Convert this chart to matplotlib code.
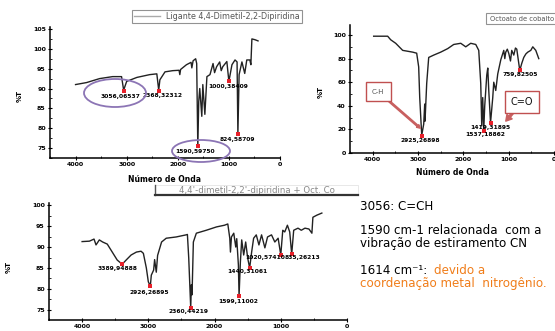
import matplotlib.pyplot as plt
from matplotlib.lines import Line2D
from matplotlib.patches import Ellipse, Rectangle
from matplotlib.ticker import MultipleLocator

W, H = 555, 331

# Ligante 4,4-Dimetil-2,2-Dipiridina (wavenumber, %T)
wn_lig = [4000, 3785, 3530, 3275, 3100, 3059, 3000, 2800, 2550, 2410, 2373, 2350,
          2250, 2100, 1975, 1960, 1945, 1830, 1740, 1725, 1700, 1650, 1630, 1608,
          1590, 1570, 1530, 1510, 1470, 1430, 1370, 1310, 1280, 1240, 1180, 1150,
          1120, 1040, 1000, 940, 880, 840, 824, 800, 745, 690, 650, 590, 570, 550,
          490, 430]
t_lig = [91.0, 91.5, 92.5, 93.0, 93.0, 89.6, 91.8, 92.8, 93.5, 93.7, 89.6, 92.2,
         94.2, 94.5, 94.6, 93.5, 94.8, 96.0, 96.6, 95.2, 97.0, 97.5, 96.3, 75.3,
         86.7, 90.0, 83.0, 91.0, 83.5, 93.0, 93.5, 96.3, 94.0, 95.5, 96.7, 94.5,
         95.5, 96.8, 91.8, 96.0, 97.2, 96.7, 78.5, 93.5, 96.7, 93.8, 97.2, 97.2,
         96.0, 102.5, 102.3, 102.0]
pk_lig_wn = [3059, 2373, 1608, 1000, 824]
pk_lig_t = [89.3, 89.3, 75.5, 91.8, 78.5]
pk_lig_lab = ['3056,06537', '2368,32312', '1590,59750', '1000,38409', '824,58709']

# Octoato de cobalto
wn_oct = [3978, 3669, 3603, 3492, 3338, 3117, 3029, 2985, 2962, 2918, 2874, 2852,
          2845, 2808, 2764, 2653, 2499, 2344, 2212, 2057, 1947, 1837, 1726, 1660,
          1616, 1594, 1572, 1550, 1528, 1483, 1461, 1439, 1400, 1351, 1329, 1285,
          1241, 1174, 1108, 1085, 1064, 1030, 998, 960, 932, 887, 850, 821, 755,
          711, 667, 620, 578, 512, 468, 402, 336]
t_oct = [99, 99, 96, 93, 87, 85.5, 84.6, 73, 47, 15, 24.5, 41.5,
         27, 59, 81, 83, 85.5, 88.5, 92, 93, 90, 93, 92, 87,
         59, 23, 47, 19, 40, 66, 72, 53, 25.6, 47, 60, 53,
         67, 79, 87, 80, 85.5, 88, 84.5, 78, 87, 83, 89, 88, 70,
         76, 81, 84, 85.5, 87, 90, 87, 80]
pk_oct_wn = [2918, 1550, 1400, 755]
pk_oct_t = [14.5, 19, 25.6, 70]
pk_oct_lab = ['2925,26898', '1537,18862', '1419,31895', '759,82505']

# 4,4'-dimetil-2,2'-dipiridina + Oct. Co
wn_mix = [4000, 3890, 3820, 3790, 3740, 3690, 3620, 3545, 3470, 3395, 3335, 3260,
          3180, 3110, 3075, 3030, 3000, 2970, 2955, 2920, 2905, 2880, 2860, 2800,
          2730, 2580, 2430, 2410, 2390, 2360, 2350, 2340, 2320, 2275, 2125, 1970,
          1850, 1800, 1770, 1760, 1745, 1710, 1680, 1665, 1640, 1630, 1610, 1590,
          1560, 1530, 1500, 1470, 1440, 1410, 1370, 1330, 1290, 1240, 1200, 1140,
          1090, 1040, 1000, 970, 940, 900, 865, 835, 805, 740, 690, 635, 575, 530,
          515, 455, 380]
t_mix = [91.3, 91.4, 91.9, 90.5, 91.7, 91.2, 90.7, 88.8, 86.9, 85.9, 86.9, 88.1,
         88.8, 89.0, 88.5, 85.0, 81.7, 80.7, 83.3, 84.5, 87.0, 84.0, 88.0, 91.2,
         92.1, 92.4, 92.9, 93.0, 87.4, 75.5, 81.0, 78.6, 91.2, 93.3, 94.0, 94.8,
         95.2, 95.5, 92.1, 88.8, 92.4, 93.3, 90.0, 92.0, 85.7, 78.3, 86.4, 91.7,
         88.1, 91.2, 87.4, 85.0, 88.8, 92.1, 92.9, 90.5, 92.9, 89.8, 92.4, 92.9,
         91.2, 92.1, 88.1, 94.0, 93.6, 95.2, 93.6, 88.3, 94.0, 94.5, 94.0, 94.5,
         94.3, 93.3, 97.1, 97.6, 98.1]
pk_mix_wn = [3395, 2970, 2360, 1630, 1470, 1000, 835]
pk_mix_t = [85.9, 80.7, 75.5, 78.3, 85.0, 88.1, 88.3]
pk_mix_lab = ['3389,94888', '2926,26895', '2360,44219', '1599,11002', '1440,31061',
              '1020,57410', '835,26213']

fig = plt.figure(figsize=(W / 100, H / 100), dpi=100)
fig.patch.set_facecolor('white')


def px_axes(l, t, r, b):
    return fig.add_axes([l / W, 1 - b / H, (r - l) / W, (b - t) / H])


def fx(x):
    return x / W


def fy(y):
    return 1 - y / H


def spectrum(ax, wn, t, pk_wn, pk_t, labels, offsets, ylim, major, minor):
    ax.plot(wn, t, color='#222222', lw=1.0)
    ax.plot(pk_wn, pk_t, 's', color='#e8202a', ms=2.2, mew=0)
    for w, v, s, (dx, dy) in zip(pk_wn, pk_t, labels, offsets):
        ax.annotate(s, (w, v), xytext=(dx, dy), textcoords='offset pixels',
                    ha='center', va='center', fontsize=4.3, fontweight='bold')
    ax.set_xlim(4500, 0)
    ax.set_ylim(*ylim)
    ax.xaxis.set_major_locator(MultipleLocator(1000))
    ax.xaxis.set_minor_locator(MultipleLocator(500))
    ax.yaxis.set_major_locator(MultipleLocator(major))
    ax.yaxis.set_minor_locator(MultipleLocator(minor))
    for s in ['top', 'right']:
        ax.spines[s].set_visible(False)
    for s in ['left', 'bottom']:
        ax.spines[s].set_linewidth(1.1)
    ax.tick_params(which='major', direction='inout', length=3, width=0.8,
                   labelsize=4.5, pad=1.5)
    ax.tick_params(which='minor', direction='in', length=1.5, width=0.6)
    for lab in ax.get_xticklabels() + ax.get_yticklabels():
        lab.set_fontweight('bold')
    ax.patch.set_alpha(0)


# top-left panel
ax1 = px_axes(50, 27, 280, 158)
spectrum(ax1, wn_lig, t_lig, pk_lig_wn, pk_lig_t, pk_lig_lab,
         [(-3, -5), (4, -4), (-3, -5), (-1, -5), (-1, -5)],
         (72.5, 105.5), 5, 2.5)
ax1.set_xlabel('Número de Onda', fontsize=5.5, fontweight='bold')
ax1.xaxis.set_label_coords(0.5, -0.13)
ax1.set_ylabel('%T', fontsize=5, fontweight='bold')
ax1.yaxis.set_label_coords(-0.12, 0.47)
leg1 = ax1.legend(['Ligante 4,4-Dimetil-2,2-Dipiridina'], loc='upper left',
                  bbox_to_anchor=(fx(132), fy(10)), bbox_transform=fig.transFigure,
                  fontsize=5.8, fancybox=False, edgecolor='#777777', borderpad=0.25,
                  handlelength=3.2, borderaxespad=0, labelcolor='#555555')
leg1.get_frame().set_linewidth(0.8)
leg1.get_lines()[0].set_color('#aaaaaa')

for cx, cy, w, h in [(115, 93, 62, 28), (201, 151, 58, 22)]:
    fig.add_artist(Ellipse((fx(cx), fy(cy)), w / W, h / H, transform=fig.transFigure,
                           fill=False, ec='#8c75b5', lw=1.3))

# top-right panel
ax2 = px_axes(350, 25, 554, 153)
spectrum(ax2, wn_oct, t_oct, pk_oct_wn, pk_oct_t, pk_oct_lab,
         [(-1, -5), (1, -4), (0, -5), (0, -4)],
         (0, 108.5), 20, 10)
ax2.set_xlabel('Número de Onda', fontsize=5.5, fontweight='bold')
ax2.xaxis.set_label_coords(0.5, -0.117)
ax2.set_ylabel('%T', fontsize=5, fontweight='bold')
ax2.yaxis.set_label_coords(-0.13, 0.48)
leg2 = ax2.legend(['Octoato de cobalto'], loc='upper left',
                  bbox_to_anchor=(fx(486), fy(13)), bbox_transform=fig.transFigure,
                  fontsize=4.9, fancybox=False, edgecolor='#777777', borderpad=0.4,
                  handlelength=0, handletextpad=0.2, borderaxespad=0,
                  labelcolor='#555555')
leg2.get_frame().set_linewidth(0.8)
leg2.get_lines()[0].set_visible(False)

ax2.annotate('C-H', xy=(2950, 21), xycoords='data',
             xytext=(378, H - 91.5), textcoords='figure pixels',
             ha='center', va='center', fontsize=5, color='#555555',
             bbox=dict(boxstyle='square,pad=0.9', fc='white', ec='#c05050', lw=1),
             arrowprops=dict(arrowstyle='simple,head_width=0.5,head_length=0.5,tail_width=0.2',
                             fc='#c86060', ec='#c86060', shrinkA=0, shrinkB=0))
ax2.annotate('C=O', xy=(1064, 27), xycoords='data',
             xytext=(522, H - 102), textcoords='figure pixels',
             ha='center', va='center', fontsize=7, color='#111111',
             bbox=dict(boxstyle='square,pad=0.6', fc='white', ec='#c05050', lw=1),
             arrowprops=dict(arrowstyle='simple,head_width=0.7,head_length=0.6,tail_width=0.2',
                             fc='#c86060', ec='#c86060', shrinkA=0, shrinkB=0))

# bottom panel
ax3 = px_axes(49, 203, 347, 320)
spectrum(ax3, wn_mix, t_mix, pk_mix_wn, pk_mix_t, pk_mix_lab,
         [(-5, -4), (-1, -6), (-2, -4), (-1, -5), (-2, -4), (-16, -3), (11, -3)],
         (72.6, 100.5), 5, 2.5)
ax3.set_ylabel('%T', fontsize=5, fontweight='bold')
ax3.yaxis.set_label_coords(-0.124, 0.45)
leg3 = ax3.legend(["4,4'-dimetil-2,2'-dipiridina + Oct. Co"], loc='center',
                  bbox_to_anchor=(fx(257), fy(190.5)), bbox_transform=fig.transFigure,
                  fontsize=6.2, frameon=False, handlelength=0, handletextpad=0,
                  labelcolor='#888888')
leg3.get_lines()[0].set_visible(False)
fig.add_artist(Rectangle((fx(155), fy(195)), 203 / W, 10 / H, transform=fig.transFigure,
                         fill=False, ec='#e4e4e4', lw=0.6))
fig.add_artist(Line2D([fx(155), fx(155)], [fy(185), fy(195)], transform=fig.transFigure,
                      color='#555555', lw=1))
fig.add_artist(Line2D([fx(155), fx(358)], [fy(195), fy(195)], transform=fig.transFigure,
                      color='#333333', lw=1.6))

# notes
fs = 8.6
fig.text(fx(360), fy(207), '3056: C=CH', fontsize=fs, va='center')
fig.text(fx(360), fy(231), '1590 cm-1 relacionada  com a', fontsize=fs, va='center')
fig.text(fx(360), fy(244), 'vibração de estiramento CN', fontsize=fs, va='center')
fig.text(fx(360), fy(271), '1614 cm⁻¹:', fontsize=fs, va='center')
fig.text(fx(434), fy(271), 'devido a', fontsize=fs, va='center', color='#f07d1a')
fig.text(fx(360), fy(283), 'coordenação metal  nitrogênio.', fontsize=fs, va='center',
         color='#f07d1a')

fig.savefig('out.png', dpi=100)
